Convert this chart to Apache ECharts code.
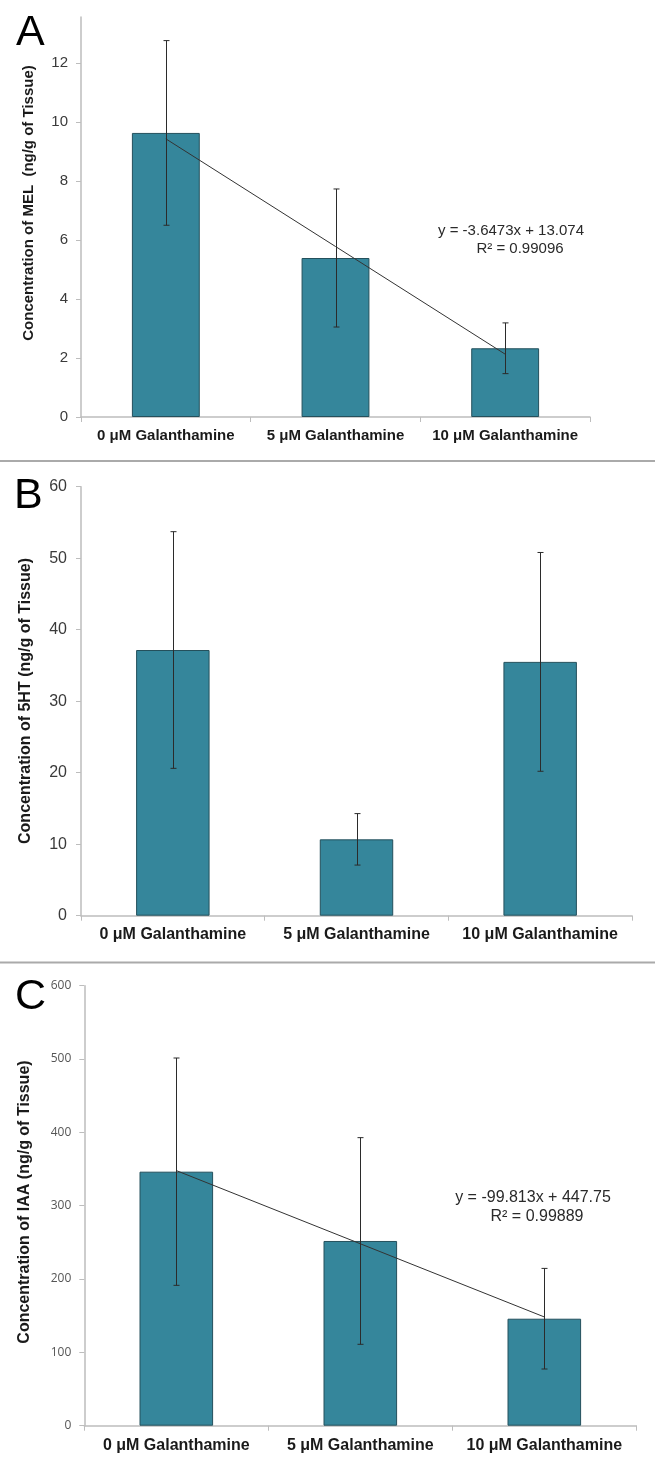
<!DOCTYPE html>
<html>
<head>
<meta charset="utf-8">
<script src="https://cdn.jsdelivr.net/npm/echarts@6/dist/echarts.min.js"></script>
<style>
html,body{margin:0;padding:0;background:#fff;}
#chart{width:655px;height:1472px;}
</style>
</head>
<body>
<div id="chart"></div>
<script>
// ---------- DATA ----------
const categories = ['0 μM Galanthamine', '5 μM Galanthamine', '10 μM Galanthamine'];

// Panel A: MEL
const melMean = [9.63, 5.39, 2.33];
const melErr = [3.13, 2.34, 0.86];
const melTrend = [9.43, 5.78, 2.13];
const melTicks = [0, 2, 4, 6, 8, 10, 12];

// Panel B: 5HT
const htMean = [37.16, 10.68, 35.5];
const htErr = [16.55, 3.6, 15.3];
const htTicks = [0, 10, 20, 30, 40, 50, 60];

// Panel C: IAA
const iaaMean = [346.4, 251.9, 145.9];
const iaaErr = [155, 140.9, 68.6];
const iaaTrend = [347.9, 248.1, 148.3];
const iaaTicks = [0, 100, 200, 300, 400, 500, 600];

const panelLetters = ['A', 'B', 'C'];
const yTitles = [
  'Concentration of MEL  (ng/g of Tissue)',
  'Concentration of 5HT (ng/g of Tissue)',
  'Concentration of IAA (ng/g of Tissue)'
];
const equations = [
  ['y = -3.6473x + 13.074', 'R² = 0.99096'],
  ['y = -99.813x + 447.75', 'R² = 0.99889']
];

// ---------- STYLE ----------
const FONT = '"Liberation Sans", Arial, sans-serif';
const BAR_COLOR = '#35869b';
const BAR_BORDER = '#24505c';
const AXIS_COLOR = '#bdbdbd';
const ERR_COLOR = '#2b2b2b';

const grids = [
  {left: 81, right: 65, top: 17, height: 400},
  {left: 81, right: 23, top: 486.7, height: 429},
  {left: 84.3, right: 18.7, top: 985.7, height: 440}
];
const fontSizes = [15, 16, 16];
const yMax = [13.56, 60, 600];
const ticks = [melTicks, htTicks, iaaTicks];

function xAxis(i) {
  return {
    type: 'category', gridIndex: i, data: categories,
    axisLine: {lineStyle: {color: AXIS_COLOR, width: 1.5}},
    axisTick: {show: true, length: 5, lineStyle: {color: AXIS_COLOR}},
    axisLabel: {
      color: '#1a1a1a', fontWeight: 'bold', fontSize: fontSizes[i],
      fontFamily: FONT, margin: i === 2 ? 12 : 11, interval: 0
    }
  };
}
function yAxis(i) {
  return {
    type: 'value', gridIndex: i, min: 0, max: yMax[i],
    splitLine: {show: false},
    axisLine: {show: true, lineStyle: {color: AXIS_COLOR, width: 1.5}},
    axisTick: {show: true, length: 5, inside: false, customValues: ticks[i], lineStyle: {color: AXIS_COLOR}},
    axisLabel: {
      customValues: ticks[i],
      color: i === 2 ? '#555' : '#3a3a3a',
      fontSize: i === 2 ? 12 : fontSizes[i],
      fontFamily: i === 2 ? '"Open Sans", "Liberation Sans", sans-serif' : FONT,
      margin: i === 1 ? 14 : 13
    }
  };
}

function barSeries(i, data) {
  return {
    type: 'bar', xAxisIndex: i, yAxisIndex: i, data: data, barWidth: '40%',
    itemStyle: {color: BAR_COLOR, borderColor: BAR_BORDER, borderWidth: 1},
    z: 2, silent: true
  };
}
function errSeries(i, mean, err) {
  return {
    type: 'custom', xAxisIndex: i, yAxisIndex: i, z: 5, silent: true,
    data: mean.map((m, k) => [k, m, err[k]]),
    encode: {x: 0, y: 1},
    renderItem: function (params, api) {
      const x = api.value(0), m = api.value(1), e = api.value(2);
      const top = api.coord([x, m + e]);
      const bot = api.coord([x, m - e]);
      const cx = Math.round(top[0]) + 0.5;
      const w = 3;
      const st = {stroke: ERR_COLOR, lineWidth: 1};
      return {
        type: 'group',
        children: [
          {type: 'line', shape: {x1: cx, y1: top[1], x2: cx, y2: bot[1]}, style: st},
          {type: 'line', shape: {x1: cx - w, y1: top[1], x2: cx + w, y2: top[1]}, style: st},
          {type: 'line', shape: {x1: cx - w, y1: bot[1], x2: cx + w, y2: bot[1]}, style: st}
        ]
      };
    }
  };
}
function trendSeries(i, data) {
  return {
    type: 'line', xAxisIndex: i, yAxisIndex: i, data: data, symbol: 'none',
    lineStyle: {color: '#333', width: 1}, z: 4, silent: true
  };
}

// graphic elements
const graphics = [];
// separators
[461, 962.5].forEach(y => graphics.push({
  type: 'line', shape: {x1: 0, y1: y, x2: 655, y2: y},
  style: {stroke: '#aaaaaa', lineWidth: 2}, silent: true
}));
// panel letters
const letterPos = [[16, 33], [14, 496], [15, 997]];
panelLetters.forEach((t, i) => graphics.push({
  type: 'text', x: letterPos[i][0], y: letterPos[i][1],
  style: {text: t, font: '43px ' + FONT, fill: '#000', textAlign: 'left', textVerticalAlign: 'middle'}
}));
// y titles
const titlePos = [[29, 203], [26, 701], [25, 1202]];
yTitles.forEach((t, i) => graphics.push({
  type: 'text', x: titlePos[i][0], y: titlePos[i][1], rotation: Math.PI / 2,
  style: {text: t, font: 'bold ' + fontSizes[i] + 'px ' + FONT, fill: '#1a1a1a',
    textAlign: 'center', textVerticalAlign: 'middle'}
}));
// equations
const eqPos = [[[511, 231], [520, 249]], [[533, 1198], [537, 1217]]];
const eqSize = [15, 16];
equations.forEach((lines, k) => lines.forEach((t, j) => graphics.push({
  type: 'text', x: eqPos[k][j][0], y: eqPos[k][j][1],
  style: {text: t, font: eqSize[k] + 'px ' + FONT, fill: '#2a2a2a',
    textAlign: 'center', textVerticalAlign: 'middle'}
})));

const option = {
  backgroundColor: '#fff',
  animation: false,
  grid: grids,
  xAxis: [xAxis(0), xAxis(1), xAxis(2)],
  yAxis: [yAxis(0), yAxis(1), yAxis(2)],
  series: [
    barSeries(0, melMean), trendSeries(0, melTrend), errSeries(0, melMean, melErr),
    barSeries(1, htMean), errSeries(1, htMean, htErr),
    barSeries(2, iaaMean), trendSeries(2, iaaTrend), errSeries(2, iaaMean, iaaErr)
  ],
  graphic: graphics
};

const chart = echarts.init(document.getElementById('chart'), null, {renderer: 'canvas'});
chart.setOption(option);
</script>
</body>
</html>
